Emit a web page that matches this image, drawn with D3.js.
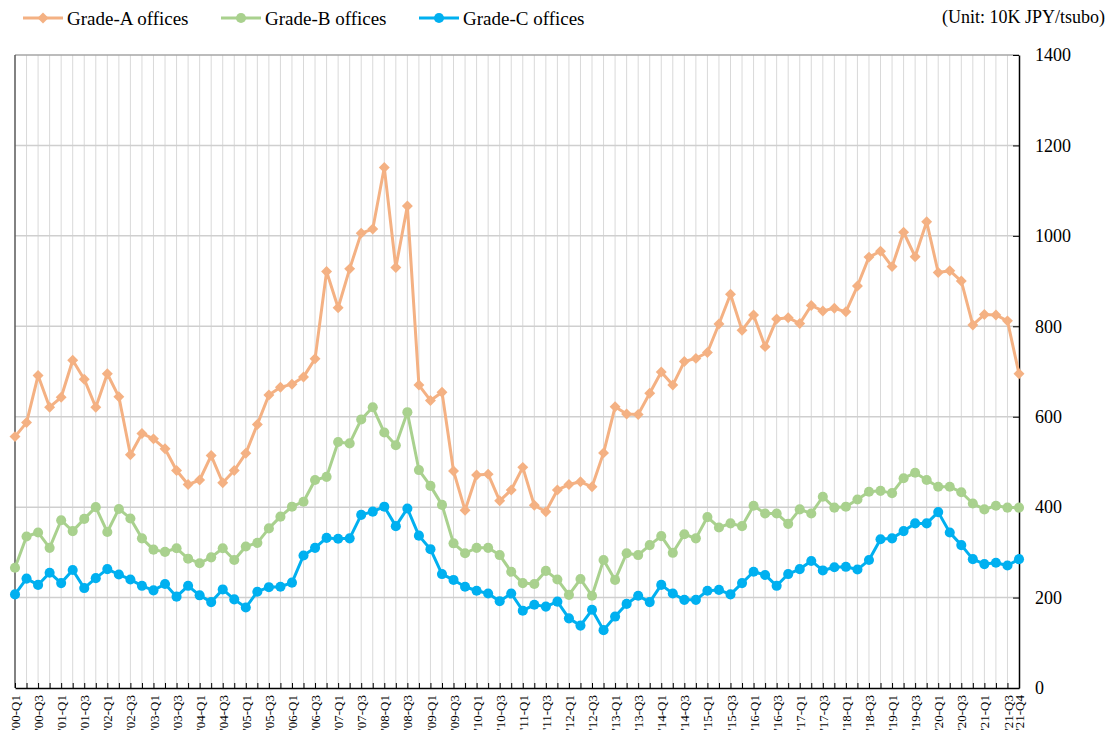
<!DOCTYPE html>
<html>
<head>
<meta charset="utf-8">
<script src="https://cdn.jsdelivr.net/npm/d3@7"></script>
<style>
  body { margin: 0; background: #fff; }
  svg { font-family: "Liberation Serif", "Times New Roman", serif; }
</style>
</head>
<body>
<div id="chart"></div>
<script>
// quarters '00-Q1 .. '21-Q4
var quarters = [];
for (var yr = 0; yr <= 21; yr++) {
  for (var q = 1; q <= 4; q++) {
    quarters.push("'" + (yr < 10 ? "0" + yr : yr) + "-Q" + q);
  }
}

var gradeA = [556, 587, 691, 621, 643, 725, 683, 621, 695, 644,
  516, 563, 551, 529, 481, 450, 460, 514, 454, 481,
  519, 583, 648, 665, 672, 688, 728, 921, 841, 927,
  1006, 1015, 1151, 930, 1066, 670, 636, 654, 480, 393,
  471, 473, 414, 438, 488, 404, 390, 438, 450, 456,
  445, 520, 622, 606, 605, 652, 699, 670, 722, 729,
  742, 805, 871, 791, 825, 755, 816, 819, 806, 846,
  834, 840, 832, 889, 953, 966, 932, 1008, 954, 1031,
  919, 923, 900, 803, 826, 825, 812, 695];

var gradeB = [266, 335, 344, 310, 371, 347, 374, 400, 345, 396,
  375, 331, 306, 301, 309, 286, 276, 289, 309, 283,
  313, 321, 353, 379, 401, 412, 460, 467, 544, 541,
  594, 621, 565, 537, 610, 482, 447, 405, 320, 298,
  310, 310, 294, 257, 232, 230, 259, 240, 206, 241,
  204, 283, 239, 298, 294, 316, 336, 299, 340, 331,
  378, 355, 364, 358, 403, 386, 386, 363, 395, 386,
  423, 399, 401, 417, 434, 436, 431, 464, 476, 460,
  445, 445, 433, 408, 395, 403, 399, 399];

var gradeC = [207, 242, 228, 255, 232, 261, 221, 243, 263, 251,
  240, 226, 216, 230, 202, 226, 205, 190, 218, 196,
  178, 213, 223, 224, 233, 293, 310, 332, 330, 331,
  383, 390, 401, 358, 397, 337, 307, 252, 239, 224,
  215, 209, 192, 209, 171, 184, 180, 191, 154, 138,
  173, 128, 158, 186, 204, 190, 228, 209, 195, 195,
  215, 217, 207, 232, 257, 250, 226, 252, 263, 281,
  260, 267, 268, 262, 283, 329, 331, 347, 364, 364,
  389, 344, 316, 285, 274, 277, 271, 285];

var yTicks = [0, 200, 400, 600, 800, 1000, 1200, 1400];

var series = [
  {name: "Grade-A offices", values: gradeA, color: "#F4B183", shape: "diamond"},
  {name: "Grade-B offices", values: gradeB, color: "#A9D18E", shape: "circle"},
  {name: "Grade-C offices", values: gradeC, color: "#00B0F0", shape: "circle"}
];

var W = 1113, H = 735;
var plotL = 15, plotR = 1019, plotT = 55, plotB = 688;

var svg = d3.select("#chart").append("svg")
  .attr("width", W)
  .attr("height", H);

var x = d3.scalePoint().domain(quarters).range([plotL, plotR]);
var y = d3.scaleLinear().domain([0, 1400]).range([plotB, plotT]);

// vertical grid
svg.append("g")
  .selectAll("line")
  .data(quarters.slice(1, -1))
  .enter().append("line")
  .attr("x1", function(d) { return x(d); })
  .attr("x2", function(d) { return x(d); })
  .attr("y1", plotT)
  .attr("y2", plotB)
  .attr("stroke", "#d9d9d9")
  .attr("stroke-width", 1);

// horizontal grid (top one a bit darker)
svg.append("g")
  .selectAll("line")
  .data(yTicks.slice(1))
  .enter().append("line")
  .attr("x1", plotL)
  .attr("x2", plotR)
  .attr("y1", function(d) { return y(d); })
  .attr("y2", function(d) { return y(d); })
  .attr("stroke", function(d) { return d === 1400 ? "#a6a6a6" : "#cfcfcf"; })
  .attr("stroke-width", 1.5);

// left border
svg.append("line")
  .attr("x1", plotL).attr("x2", plotL)
  .attr("y1", plotT).attr("y2", plotB)
  .attr("stroke", "#595959").attr("stroke-width", 1.5);

// right axis
var yAxis = d3.axisRight(y)
  .tickValues(yTicks)
  .tickSizeInner(-6)
  .tickSizeOuter(0)
  .tickPadding(16)
  .tickFormat(d3.format("d"));

var ya = svg.append("g")
  .attr("transform", "translate(" + plotR + ",0)")
  .call(yAxis);
ya.select(".domain").attr("stroke", "#000").attr("stroke-width", 1.5);
ya.selectAll(".tick line").attr("stroke", "#000");
ya.selectAll(".tick text")
  .attr("font-size", "18px")
  .attr("font-family", "Liberation Serif, serif")
  .attr("fill", "#000");

// bottom axis
var labelSet = quarters.filter(function(d, i) { return i % 2 === 0 || i === quarters.length - 1; });
var xAxis = d3.axisBottom(x)
  .tickValues(quarters)
  .tickSizeInner(-5)
  .tickSizeOuter(0)
  .tickFormat(function(d) { return labelSet.indexOf(d) >= 0 ? d : ""; });

var xa = svg.append("g")
  .attr("transform", "translate(0," + plotB + ")")
  .call(xAxis);
xa.select(".domain").attr("stroke", "#000").attr("stroke-width", 1.5);
xa.selectAll(".tick line").attr("stroke", "#000");
xa.selectAll(".tick text")
  .attr("font-size", "13px")
  .attr("font-family", "Liberation Serif, serif")
  .attr("fill", "#000")
  .attr("text-anchor", "end")
  .attr("transform", "rotate(-90)")
  .attr("x", -7)
  .attr("y", 0)
  .attr("dy", "0.35em");

// lines and markers
var line = d3.line()
  .x(function(d, i) { return x(quarters[i]); })
  .y(function(d) { return y(d); });

series.forEach(function(s) {
  var g = svg.append("g");
  g.append("path")
    .datum(s.values)
    .attr("d", line)
    .attr("fill", "none")
    .attr("stroke", s.color)
    .attr("stroke-width", 3)
    .attr("stroke-linejoin", "round");

  var sym = d3.symbol()
    .type(s.shape === "diamond" ? d3.symbolSquare : d3.symbolCircle)
    .size(s.shape === "diamond" ? 60 : 80);

  g.selectAll("path.m")
    .data(s.values)
    .enter().append("path")
    .attr("class", "m")
    .attr("d", sym)
    .attr("transform", function(d, i) {
      return "translate(" + x(quarters[i]) + "," + y(d) + ")" + (s.shape === "diamond" ? " rotate(45)" : "");
    })
    .attr("fill", s.color);
});

// legend
var legX = [23, 221, 419];
series.forEach(function(s, i) {
  var lg = svg.append("g").attr("transform", "translate(" + legX[i] + ",18)");
  lg.append("line")
    .attr("x1", 0).attr("x2", 40)
    .attr("y1", 0).attr("y2", 0)
    .attr("stroke", s.color).attr("stroke-width", 3);
  var sym = d3.symbol()
    .type(s.shape === "diamond" ? d3.symbolSquare : d3.symbolCircle)
    .size(s.shape === "diamond" ? 60 : 80);
  lg.append("path")
    .attr("d", sym)
    .attr("transform", "translate(20,0)" + (s.shape === "diamond" ? " rotate(45)" : ""))
    .attr("fill", s.color);
  lg.append("text")
    .attr("x", 44)
    .attr("y", 0)
    .attr("dy", "0.35em")
    .attr("font-size", "19px")
    .attr("fill", "#000")
    .text(s.name);
});

svg.append("text")
  .attr("x", 1105)
  .attr("y", 23)
  .attr("text-anchor", "end")
  .attr("font-size", "18px")
  .attr("fill", "#000")
  .text("(Unit: 10K JPY/tsubo)");
</script>
</body>
</html>
